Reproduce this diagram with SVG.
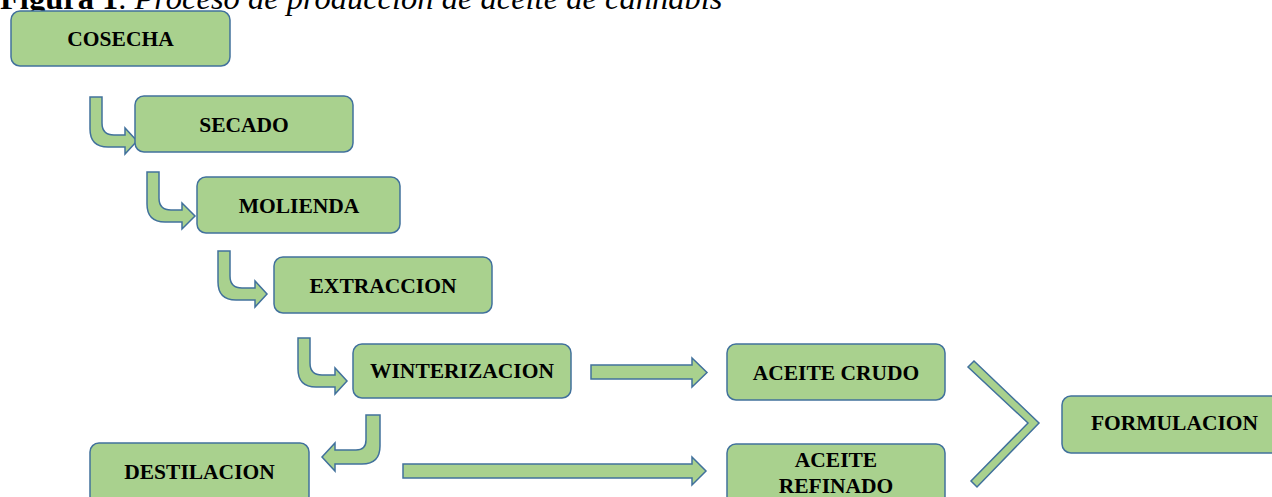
<svg xmlns="http://www.w3.org/2000/svg" width="1272" height="497" viewBox="0 0 1272 497">
<style>
.box{fill:#A9D18E;stroke:#41719C;stroke-width:1.5}
.arr{fill:#A9D18E;stroke:#41719C;stroke-width:1.5;stroke-linejoin:miter}
.lbl{font-family:"Liberation Serif","Times New Roman",serif;font-weight:bold;font-size:21.5px;fill:#000;text-anchor:middle}
.title{font-family:"Liberation Serif","Times New Roman",serif;font-size:32.5px;fill:#000}
</style>
<rect width="1272" height="497" fill="#fff"/>
<text class="title" x="0" y="9"><tspan font-weight="bold">Figura 1</tspan>. <tspan font-style="italic">Proceso de producción de aceite de cannabis</tspan></text>

<g id="connectors">
<path class="arr" d="M90 97 H102 V123 Q102 135 114 135 H125 V128 L137 141 L125 154 V147 H108 Q90 147 90 129 Z"/>
<path class="arr" d="M147 172 H159 V198 Q159 210 171 210 H182 V203 L195 216 L182 229 V222 H165 Q147 222 147 204 Z"/>
<path class="arr" d="M218 251 H230 V276 Q230 288 242 288 H255 V281 L267 294 L255 307 V300 H236 Q218 300 218 282 Z"/>
<path class="arr" d="M298 338 H310 V363 Q310 375 322 375 H335 V368 L347 381 L335 394 V387 H316 Q298 387 298 369 Z"/>
<path class="arr" d="M380 415 H366 V440 Q366 450 356 450 H335 V443 L322 457 L335 471 V464 H362 Q380 464 380 446 Z"/>
<path class="arr" d="M591 365 H692 V358 L707 372.5 L692 387 V379 H591 Z"/>
<path class="arr" d="M403 464 H692 V457 L706 471 L692 485 V478 H403 Z"/>
<path class="arr" d="M968 367 L974 361 L1039 423 L977 487 L971 481 L1028 423 Z"/>
</g>

<g id="cosecha"><rect class="box" x="11" y="11" width="219" height="55" rx="9"/><text class="lbl" x="120.5" y="46">COSECHA</text></g>
<g id="secado"><rect class="box" x="135" y="96" width="218" height="56" rx="9"/><text class="lbl" x="244" y="131.5">SECADO</text></g>
<g id="molienda"><rect class="box" x="197" y="177" width="203" height="56" rx="9"/><text class="lbl" x="299" y="213">MOLIENDA</text></g>
<g id="extraccion"><rect class="box" x="274" y="257" width="218" height="56" rx="9"/><text class="lbl" x="383" y="293">EXTRACCION</text></g>
<g id="winterizacion"><rect class="box" x="353" y="344" width="218" height="54" rx="9"/><text class="lbl" x="462" y="378">WINTERIZACION</text></g>
<g id="aceite-crudo"><rect class="box" x="727" y="344" width="218" height="56" rx="9"/><text class="lbl" x="836" y="380">ACEITE CRUDO</text></g>
<g id="aceite-refinado"><rect class="box" x="727" y="444" width="218" height="62" rx="9"/><text class="lbl" x="836" y="467">ACEITE</text><text class="lbl" x="836" y="493">REFINADO</text></g>
<g id="destilacion"><rect class="box" x="90" y="443" width="219" height="62" rx="9"/><text class="lbl" x="199.5" y="479">DESTILACION</text></g>
<g id="formulacion"><rect class="box" x="1062" y="396" width="225" height="57" rx="9"/><text class="lbl" x="1174.5" y="430">FORMULACION</text></g>
</svg>
